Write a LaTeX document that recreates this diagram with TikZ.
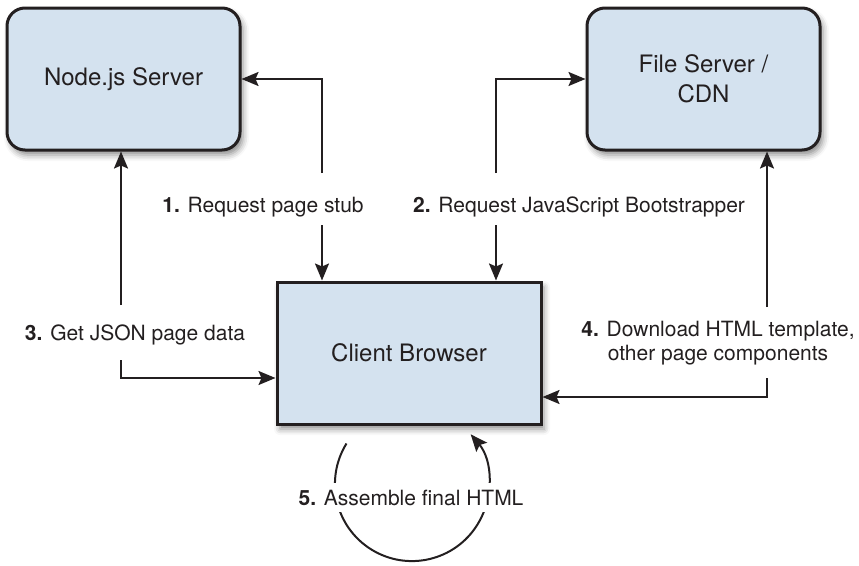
\documentclass[tikz,border=0pt]{standalone}
\usepackage{fontspec}
\setmainfont{TeX Gyre Heros}
\usepackage{tikz}
\usetikzlibrary{arrows.meta}
\usetikzlibrary{shadows.blur}

\definecolor{boxblue}{RGB}{212,226,239}
\definecolor{boxline}{RGB}{35,31,32}

\tikzset{
  server/.style={draw=boxline, line width=3pt, fill=boxblue, rounded corners=18pt,
    minimum width=233pt, minimum height=142pt, inner sep=0pt, align=center,
    font=\fontsize{24}{30}\selectfont,
    blur shadow={shadow xshift=3pt, shadow yshift=-5pt, shadow blur radius=6pt, shadow opacity=45}},
  client/.style={server, sharp corners, minimum width=264pt},
  steplabel/.style={font=\fontsize{21}{23.5}\selectfont, align=center, inner sep=0pt}
}

\begin{document}
\begin{tikzpicture}[x=1pt,y=-1pt,->,>={Stealth[length=17pt,width=14pt,inset=3pt]},line width=2pt,color=boxline]
        \useasboundingbox (0,0) rectangle (859,565);

            % Server nodes
            \node[server] (node) at (123.5,79) {Node.js Server};
            \node[server] (cdn) at (703.5,79) {File Server /\\CDN};
            
            % Browser node
            \node[client] (client) at (409,353) {Client Browser};
            
            % Step labels
            \node[steplabel, anchor=base] (l1) at (263,212) {\textbf{1.} Request page stub};
            \node[steplabel, anchor=base] (l2) at (579,212) {\textbf{2.} Request JavaScript Bootstrapper};
            \node[steplabel, anchor=base] (l3) at (135,340) {\textbf{3.} Get JSON page data};
            \node[steplabel] (l4) at (718,343) {\textbf{4.} Download HTML template,\\other page components};
            
            % Loose ends beside the labels
            \coordinate (a1) at (322,173); \coordinate (b1) at (322,225);
            \coordinate (a2) at (496,173); \coordinate (b2) at (496,225);
            \coordinate (a3) at (121,305); \coordinate (b3) at (121,360);
            \coordinate (a4) at (767,307); \coordinate (b4) at (767,378);
            \coordinate (s5) at ([xshift=71pt,yshift=-18pt]client.south west);
            
            % Requests
            \draw (a1) |- (node.east);
            \draw (b1) -- (b1 |- client.north);
            \draw (a2) |- (cdn.west);
            \draw (b2) -- (b2 |- client.north);
            
            % Responses
            \draw (a3) -- (a3 |- node.south);
            \draw (b3) |- ([yshift=-25pt]client.west);
            \draw (a4) -- (a4 |- cdn.south);
            \draw (b4) |- ([yshift=-44pt]client.east);
            
            % Loop back into the browser
            \draw (s5) arc[start angle=148.2, end angle=400.3, radius=77pt];
            \node[steplabel, anchor=base, fill=white, inner xsep=3pt, inner ysep=7pt] (l5) at (411,505) {\textbf{5.} Assemble final HTML};
        
        \end{tikzpicture}
\end{document}
